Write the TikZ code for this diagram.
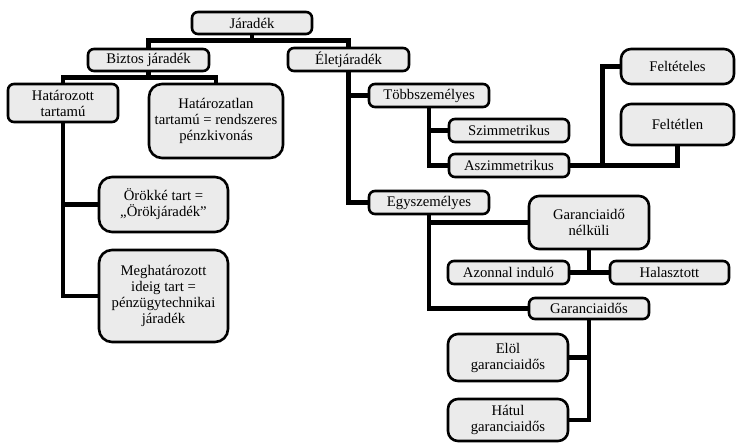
\documentclass[tikz,border=0pt]{standalone}
\usepackage{fontspec}
\setmainfont{Liberation Serif}
\newfontfamily\boxfont{Liberation Serif}
\definecolor{boxgray}{HTML}{EBEBEB}
\tikzset{
  box/.style 2 args={draw, line width=2.6pt, fill=boxgray, rounded corners=6pt,
    align=center, inner sep=1pt, minimum width=#1pt, minimum height=#2pt},
  bigbox/.style={rounded corners=13pt},
  link/.style={line width=4.5pt}
}
\begin{document}
\begin{tikzpicture}[x=1pt,y=-1pt,font=\boxfont\fontsize{14.7}{16}\selectfont]
\useasboundingbox (0,0) rectangle (741,443);
\node[box={120}{22}] (jaradek) at (252,23) {Járadék};
\node[box={121}{22}] (biztos) at (148.5,60) {Biztos járadék};
\node[box={121}{23}] (elet) at (348.5,59.5) {Életjáradék};
\node[box={110}{38}] (hatarozott) at (63,103) {Határozott\\tartamú};
\node[box={134}{74},bigbox] (hatarozatlan) at (216,121) {Határozatlan\\tartamú = rendszeres\\pénzkivonás};
\node[box={129}{55},bigbox] (orokke) at (163.5,204.5) {Örökké tart =\\„Örökjáradék”};
\node[box={129}{92},bigbox] (meghat) at (163.5,296) {Meghatározott\\ideig tart =\\pénzügytechnikai\\járadék};
\node[box={120}{23}] (tobb) at (429,95.5) {Többszemélyes};
\node[box={120}{23}] (szimm) at (509,130.5) {Szimmetrikus};
\node[box={120}{23}] (aszimm) at (509,165.5) {Aszimmetrikus};
\node[box={113}{35},rounded corners=10pt] (feltet) at (677.5,66.5) {Feltételes};
\node[box={113}{41},rounded corners=10pt] (feltetlen) at (677.5,124.5) {Feltétlen};
\node[box={120}{23}] (egy) at (429,202.5) {Egyszemélyes};
\node[box={120}{53},rounded corners=10pt] (gnelk) at (589,222.5) {Garanciaidő\\nélküli};
\node[box={121}{23}] (azonnal) at (508.5,272.5) {Azonnal induló};
\node[box={119}{23}] (halaszt) at (669.5,272.5) {Halasztott};
\node[box={120}{21}] (gos) at (589,308.5) {Garanciaidős};
\node[box={120}{47},rounded corners=10pt] (elol) at (508,357.5) {Elöl\\garanciaidős};
\node[box={120}{42},rounded corners=10pt] (hatul) at (508,420) {Hátul\\garanciaidős};
\draw[link] (jaradek.south) -- ++(0,5) -| (biztos.north);
\draw[link] (jaradek.south) -- ++(0,5) -| (elet.north);
\draw[link] (biztos.south) -- ++(0,5) -| (hatarozott.north);
\draw[link] (biztos.south) -- ++(0,5) -| (hatarozatlan.north);
\draw[link] (hatarozott.south) |- (orokke.west);
\draw[link] (hatarozott.south) |- (meghat.west);
\draw[link] (elet.south) |- (tobb.west);
\draw[link] (elet.south) |- (egy.west);
\draw[link] (tobb.south) |- (szimm.west);
\draw[link] (tobb.south) |- (aszimm.west);
\draw[link] (aszimm.east) -| (feltetlen.south);
\draw[link] (aszimm.east) -- ++(32,0) |- (feltet.west);
\draw[link] (egy.south) |- (gnelk.west);
\draw[link] (egy.south) |- (gos.west);
\draw[link] (azonnal.east) -- (halaszt.west);
\draw[link] (gnelk.south) -- (gnelk.south |- azonnal.east);
\draw[link] (gos.south) |- (elol.east);
\draw[link] (gos.south) |- (hatul.east);
\end{tikzpicture}
\end{document}
